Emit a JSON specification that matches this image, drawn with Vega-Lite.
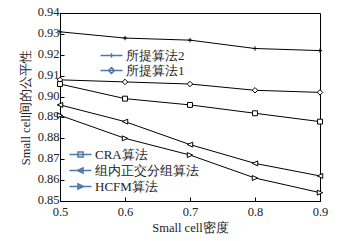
{
  "$schema": "https://vega.github.io/schema/vega-lite/v6.json",
  "autosize": {"type": "none"},
  "padding": {"left": 60, "top": 13, "right": 22, "bottom": 40},
  "width": 260,
  "height": 188,
  "background": "white",
  "config": {
    "view": {"stroke": "black", "strokeWidth": 1},
    "font": "Liberation Serif, Times New Roman, DejaVu Serif, serif",
    "axis": {
      "labelFont": "Liberation Serif, Times New Roman, DejaVu Serif, serif",
      "titleFont": "Liberation Serif, Times New Roman, DejaVu Serif, serif",
      "labelFontSize": 12.5,
      "titleFontSize": 12.5,
      "titleFontWeight": "normal",
      "labelColor": "#222",
      "titleColor": "#222",
      "domainColor": "black",
      "tickColor": "black",
      "grid": false,
      "tickSize": -4,
      "labelFlush": false,
      "labelOverlap": false
    }
  },
  "datasets": {
    "d": [
      {"x": 0.5, "y": 0.931, "s": "所提算法2", "g": "A"},
      {"x": 0.6, "y": 0.928, "s": "所提算法2", "g": "A"},
      {"x": 0.7, "y": 0.927, "s": "所提算法2", "g": "A"},
      {"x": 0.8, "y": 0.923, "s": "所提算法2", "g": "A"},
      {"x": 0.9, "y": 0.922, "s": "所提算法2", "g": "A"},
      {"x": 0.5, "y": 0.908, "s": "所提算法1", "g": "A"},
      {"x": 0.6, "y": 0.907, "s": "所提算法1", "g": "A"},
      {"x": 0.7, "y": 0.906, "s": "所提算法1", "g": "A"},
      {"x": 0.8, "y": 0.903, "s": "所提算法1", "g": "A"},
      {"x": 0.9, "y": 0.902, "s": "所提算法1", "g": "A"},
      {"x": 0.5, "y": 0.906, "s": "CRA算法", "g": "B"},
      {"x": 0.6, "y": 0.899, "s": "CRA算法", "g": "B"},
      {"x": 0.7, "y": 0.896, "s": "CRA算法", "g": "B"},
      {"x": 0.8, "y": 0.892, "s": "CRA算法", "g": "B"},
      {"x": 0.9, "y": 0.888, "s": "CRA算法", "g": "B"},
      {"x": 0.5, "y": 0.896, "s": "组内正交分组算法", "g": "B"},
      {"x": 0.6, "y": 0.888, "s": "组内正交分组算法", "g": "B"},
      {"x": 0.7, "y": 0.877, "s": "组内正交分组算法", "g": "B"},
      {"x": 0.8, "y": 0.868, "s": "组内正交分组算法", "g": "B"},
      {"x": 0.9, "y": 0.862, "s": "组内正交分组算法", "g": "B"},
      {"x": 0.5, "y": 0.891, "s": "HCFM算法", "g": "B"},
      {"x": 0.6, "y": 0.880, "s": "HCFM算法", "g": "B"},
      {"x": 0.7, "y": 0.872, "s": "HCFM算法", "g": "B"},
      {"x": 0.8, "y": 0.861, "s": "HCFM算法", "g": "B"},
      {"x": 0.9, "y": 0.854, "s": "HCFM算法", "g": "B"}
    ]
  },
  "data": {"name": "d"},
  "encoding": {
    "x": {
      "field": "x", "type": "quantitative",
      "scale": {"domain": [0.5, 0.9], "nice": false, "zero": false},
      "axis": {"values": [0.5, 0.6, 0.7, 0.8, 0.9], "format": ".1f", "title": "Small cell密度", "labelPadding": 8, "titlePadding": 4}
    },
    "y": {
      "field": "y", "type": "quantitative",
      "scale": {"domain": [0.85, 0.94], "nice": false, "zero": false},
      "axis": {"values": [0.85, 0.86, 0.87, 0.88, 0.89, 0.9, 0.91, 0.92, 0.93, 0.94], "format": ".2f", "title": "Small cell间的公平性", "labelPadding": 5, "titlePadding": 5, "labelOffset": -1.5}
    }
  },
  "layer": [
    {
      "mark": {"type": "line", "color": "black", "strokeWidth": 1},
      "encoding": {"detail": {"field": "s"}}
    },
    {
      "mark": {"type": "point", "filled": true, "fill": "white", "stroke": "black", "strokeWidth": 1, "opacity": 1},
      "encoding": {
        "shape": {
          "field": "s", "type": "nominal", "legend": null,
          "scale": {
            "domain": ["所提算法2", "所提算法1", "CRA算法", "组内正交分组算法", "HCFM算法"],
            "range": [
              "M-0.8,0L0.8,0M0,-0.8L0,0.8",
              "M-1,0L0,-1L1,0L0,1Z",
              "M-0.9,-0.9L0.9,-0.9L0.9,0.9L-0.9,0.9Z",
              "M-1,0L1,-0.9L1,0.9Z",
              "M1,0L-1,-0.9L-1,0.9Z"
            ]
          }
        },
        "size": {"value": 30}
      }
    },
    {
      "transform": [{"filter": "datum.g == 'A'"}],
      "mark": {"type": "point", "opacity": 0},
      "encoding": {
        "shape": {
          "field": "s", "type": "nominal",
          "scale": {
            "domain": ["所提算法2", "所提算法1"],
            "range": [
              "M-2.2,0L2.2,0M0,-0.45L0,0.45",
              "M-2.2,0L2.2,0M-0.6,0L0,-0.6L0.6,0L0,0.6Z"
            ]
          },
          "legend": {
            "title": null, "orient": "none", "legendX": 45, "legendY": 36,
            "padding": 0, "offset": 0, "rowPadding": 1, "symbolSize": 100,
            "labelFont": "Liberation Serif, Times New Roman, DejaVu Serif, serif", "labelFontSize": 13, "labelColor": "#222", "labelOffset": 8,
            "encode": {"symbols": {"update": {"fill": {"value": "white"}, "stroke": {"value": "black"}, "strokeWidth": {"value": 1}, "opacity": {"value": 1}}}}
          }
        }
      }
    },
    {
      "transform": [{"filter": "datum.g == 'B'"}],
      "mark": {"type": "point", "opacity": 0},
      "encoding": {
        "shape": {
          "field": "s", "type": "nominal",
          "scale": {
            "domain": ["CRA算法", "组内正交分组算法", "HCFM算法"],
            "range": [
              "M-2.2,0L2.2,0M-0.5,-0.5L0.5,-0.5L0.5,0.5L-0.5,0.5Z",
              "M-2.2,0L2.2,0M-0.6,0L0.5,-0.5L0.5,0.5Z",
              "M-2.2,0L2.2,0M0.6,0L-0.5,-0.5L-0.5,0.5Z"
            ]
          },
          "legend": {
            "title": null, "orient": "none", "legendX": 14, "legendY": 135,
            "padding": 0, "offset": 0, "rowPadding": 2, "symbolSize": 100,
            "labelFont": "Liberation Serif, Times New Roman, DejaVu Serif, serif", "labelFontSize": 13, "labelColor": "#222", "labelOffset": 8,
            "encode": {"symbols": {"update": {"fill": {"value": "white"}, "stroke": {"value": "black"}, "strokeWidth": {"value": 1}, "opacity": {"value": 1}}}}
          }
        }
      }
    }
  ],
  "resolve": {"scale": {"shape": "independent"}, "legend": {"shape": "independent"}}
}
